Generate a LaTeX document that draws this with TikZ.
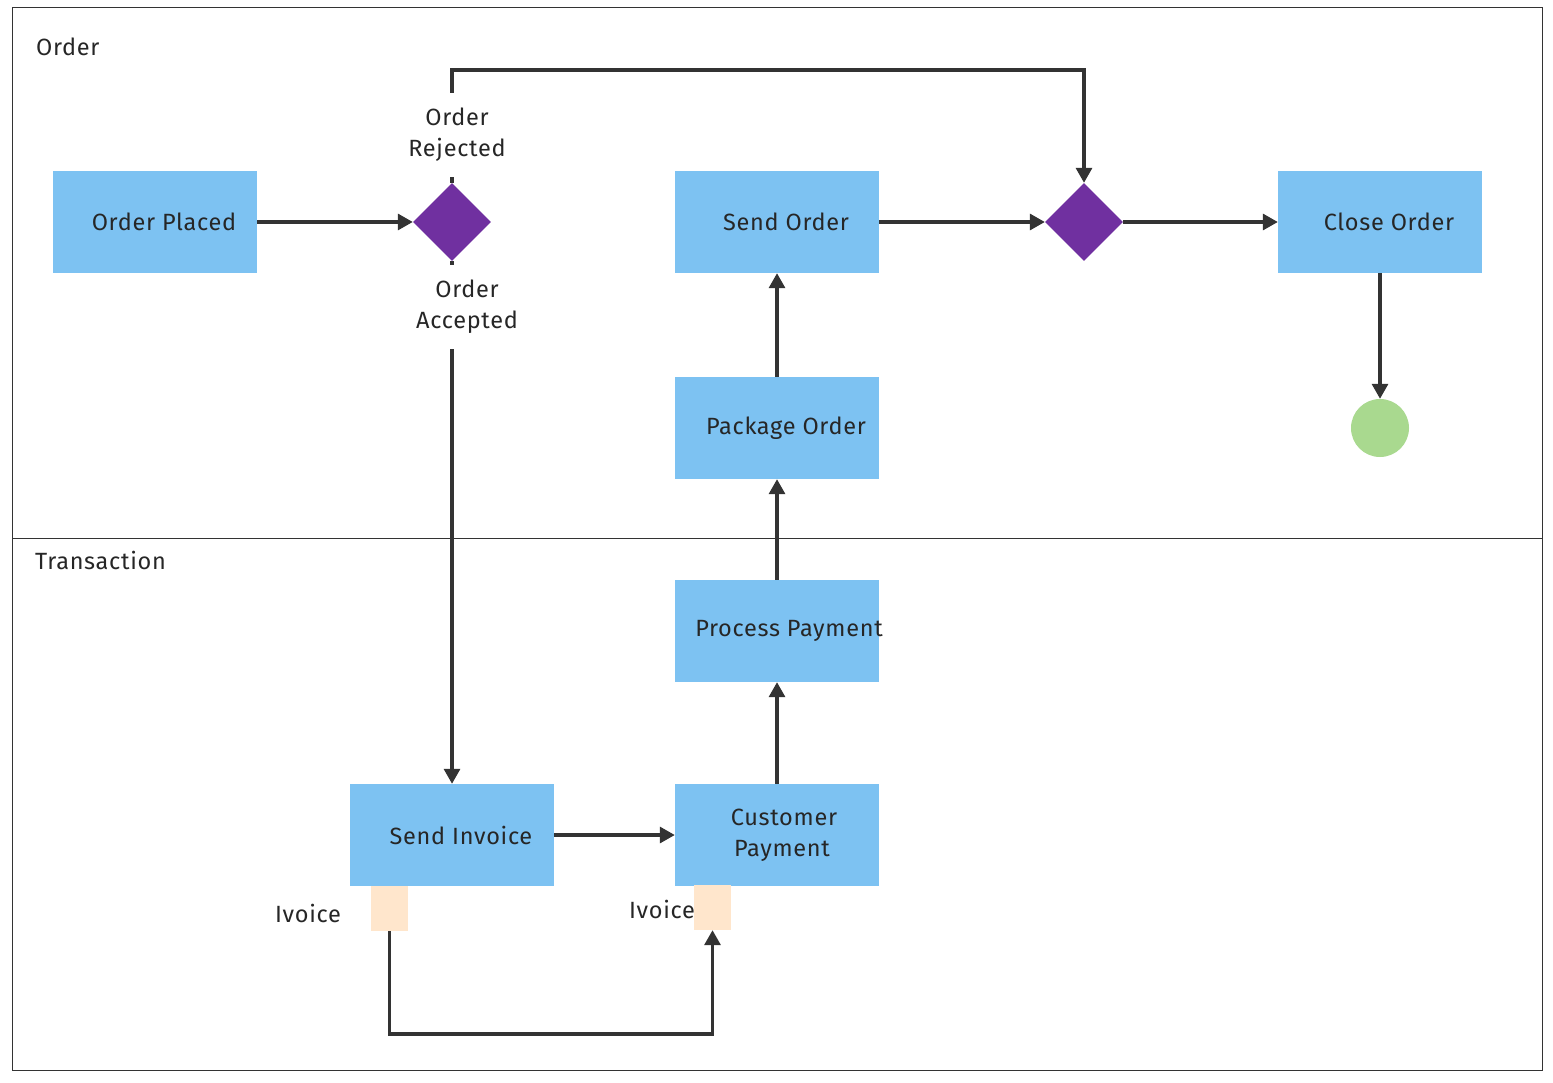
\documentclass[tikz,border=0pt]{standalone}
\usepackage{fontspec}
\setmainfont[LetterSpace=3]{Fira Sans}
\usepackage{tikz}
\usetikzlibrary{arrows.meta,shapes.geometric}

\definecolor{boxblue}{RGB}{125,194,242}
\definecolor{gatepurple}{RGB}{112,48,160}
\definecolor{endgreen}{RGB}{169,217,143}
\definecolor{pinpeach}{RGB}{255,230,204}
\definecolor{inkgray}{RGB}{51,51,51}

\begin{document}
\begin{tikzpicture}[x=1pt,y=-1pt,
  font=\fontsize{23.5}{31}\selectfont,
  task/.style={rectangle,fill=boxblue,draw=none,minimum width=204pt,minimum height=102pt,inner sep=0pt,align=center,text=black!85},
  gate/.style={diamond,fill=gatepurple,draw=none,minimum width=78pt,minimum height=78pt,inner sep=0pt},
  finish/.style={circle,fill=endgreen,draw=none,minimum size=58pt,inner sep=0pt},
  pinbox/.style={rectangle,fill=pinpeach,draw=none,minimum width=37pt,minimum height=45pt,inner sep=0pt},
  lbl/.style={fill=white,inner xsep=2pt,inner ysep=15pt,align=center,text=black!85},
  txt/.style={inner sep=0pt,text=black!85},
  flow/.style={draw=inkgray,line width=3.2pt,-{Triangle[length=15pt,width=16pt]}}]
\path[use as bounding box] (0,0) rectangle (1553,1083);
\path[fill=white] (0,0) rectangle (1553,1083);
% lanes
\draw[inkgray,line width=1pt] (12,8) rectangle (1542,1070);
\draw[inkgray,line width=1pt] (12,538) -- (1542,538);
\node[txt,anchor=west] (laneorder) at (36,47) {Order};
\node[txt,anchor=west] (lanetrans) at (35,560) {Transaction};
% order lane
\node[task] (placed) at (155,222) {\hspace*{18pt}Order Placed};
\node[gate] (g1) at (452,222) {};
\node[task] (sendorder) at (777,222) {\hspace*{18pt}Send Order};
\node[gate] (g2) at (1084,222) {};
\node[task] (close) at (1380,222) {\hspace*{18pt}Close Order};
\node[finish] (done) at (1380,428) {};
\node[task] (package) at (777,428) {\hspace*{18pt}Package Order};
% transaction lane
\node[task] (process) at (777,631) {\hspace*{12pt}Process Payment\hspace*{-12pt}};
\node[task] (invoice) at (452,835) {\hspace*{18pt}Send Invoice};
\node[task] (payment) at (777,835) {\hspace*{14pt}Customer\\\hspace*{10pt}Payment};
\node[pinbox] (pinout) at (389.5,908.5) {};
\node[pinbox] (pinin) at (712.5,907.5) {};
\node[txt] (pinoutlbl) at (308,913) {Ivoice};
\node[txt] (pininlbl) at (662,909) {Ivoice};
\coordinate (rejtop) at (452,70);
% connectors
\draw[flow] (placed) -- (g1);
\draw[flow] (g1.north) -- node[lbl,pos=0.425,xshift=5pt] (rej) {Order\\Rejected} (rejtop) -| (g2.north);
\draw[flow] (g1.south) -- node[lbl,pos=0.088,xshift=15pt] (acc) {Order\\Accepted} (invoice.north);
\draw[flow] (sendorder) -- (g2);
\draw[flow] (g2) -- (close);
\draw[flow] (close) -- (done);
\draw[flow] (package) -- (sendorder);
\draw[flow] (process) -- (package);
\draw[flow] (payment) -- (process);
\draw[flow] (invoice) -- (payment);
\draw[flow] (pinout.south) -- (pinout.south |- 0,1034) -| (pinin.south);
\end{tikzpicture}
\end{document}
